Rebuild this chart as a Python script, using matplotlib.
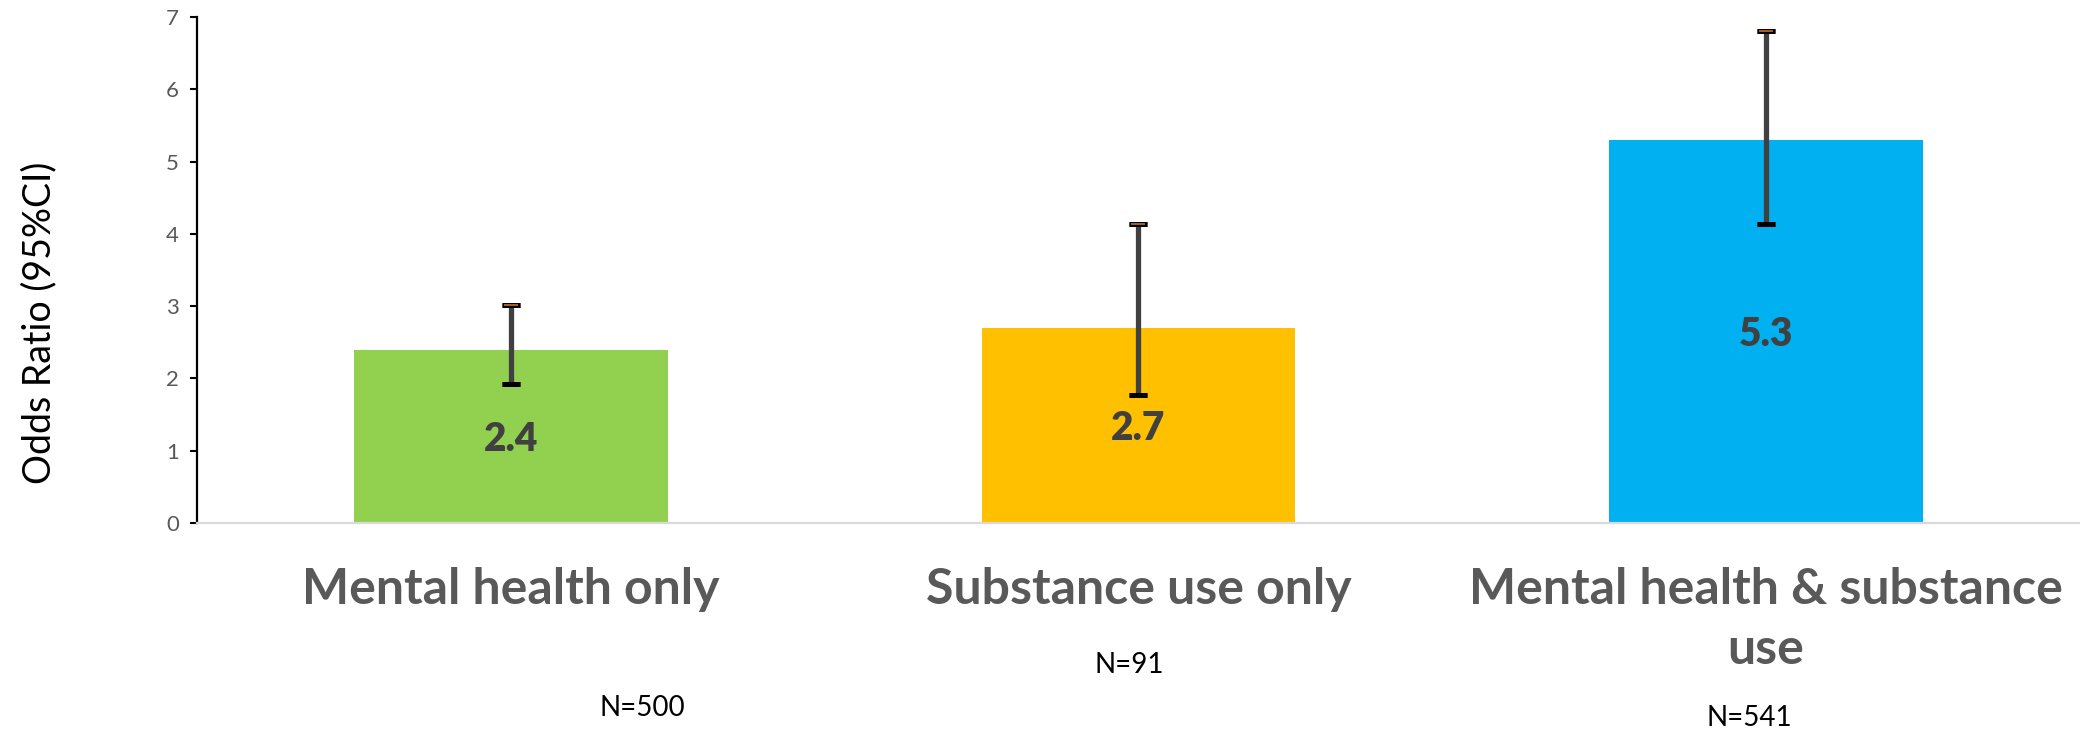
import numpy as np
import matplotlib.pyplot as plt

plt.rcParams['font.family'] = ['Lato', 'DejaVu Sans']

categories = ['Mental health only', 'Substance use only', 'Mental health & substance\nuse']
odds = [2.4, 2.7, 5.3]
ci_low = [1.93, 1.77, 4.14]
ci_high = [3.01, 4.14, 6.80]
value_labels = ['2.4', '2.7', '5.3']
bar_colors = ['#92d050', '#ffc000', '#00b0f0']
n_labels = ['N=500', 'N=91', 'N=541']

fig = plt.figure(figsize=(20.8, 7.31), dpi=100)
ax = fig.add_axes([0.0947, 0.2845, 0.9053, 0.6922])

x = np.arange(len(categories))
ax.bar(x, odds, width=0.5, color=bar_colors, zorder=2)

err = [np.array(odds) - np.array(ci_low), np.array(ci_high) - np.array(odds)]
ax.errorbar(x, odds, yerr=err, fmt='none', ecolor='#404040', elinewidth=3.8,
            capsize=6.5, capthick=3.4, zorder=3)
# caps drawn again in black, upper cap has the orange centre line
ax.plot(x, ci_low, ls='none', marker='_', ms=13, mew=3.6, color='black', zorder=4)
ax.plot(x, ci_high, ls='none', marker='_', ms=13, mew=3.6, color='black', zorder=4)
ax.plot(x, ci_high, ls='none', marker='_', ms=10, mew=1.2, color='#c8702a', zorder=5)

for xi, v, lab in zip(x, odds, value_labels):
    ax.text(xi, v / 2 - 0.04, lab, ha='center', va='center', fontsize=28,
            fontweight='heavy', color='#404040', zorder=6)

ax.set_xlim(-0.5, 2.5)
ax.set_ylim(0, 7)
ax.set_yticks(range(8))
ax.tick_params(axis='y', labelsize=16, labelcolor='#595959', length=5,
               width=1.5, color='black', pad=8)
ax.set_xticks(x)
ax.set_xticklabels(categories, fontsize=36, fontweight='bold', color='#595959',
                   linespacing=1.38)
ax.tick_params(axis='x', length=0, pad=32)

for s in ['top', 'right']:
    ax.spines[s].set_visible(False)
ax.spines['left'].set_color('black')
ax.spines['left'].set_linewidth(1.6)
ax.spines['bottom'].set_color('#d9d9d9')
ax.spines['bottom'].set_linewidth(1.6)

fig.text(0.019, 0.558, 'Odds Ratio (95%CI)', rotation=90, ha='center',
         va='center', fontsize=27, color='black')

n_pos = [(0.309, 0.032), (0.543, 0.090), (0.841, 0.018)]
for (fx, fy), lab in zip(n_pos, n_labels):
    fig.text(fx, fy, lab, ha='center', va='center', fontsize=20, color='black')

fig.savefig('out.png', dpi=100)
